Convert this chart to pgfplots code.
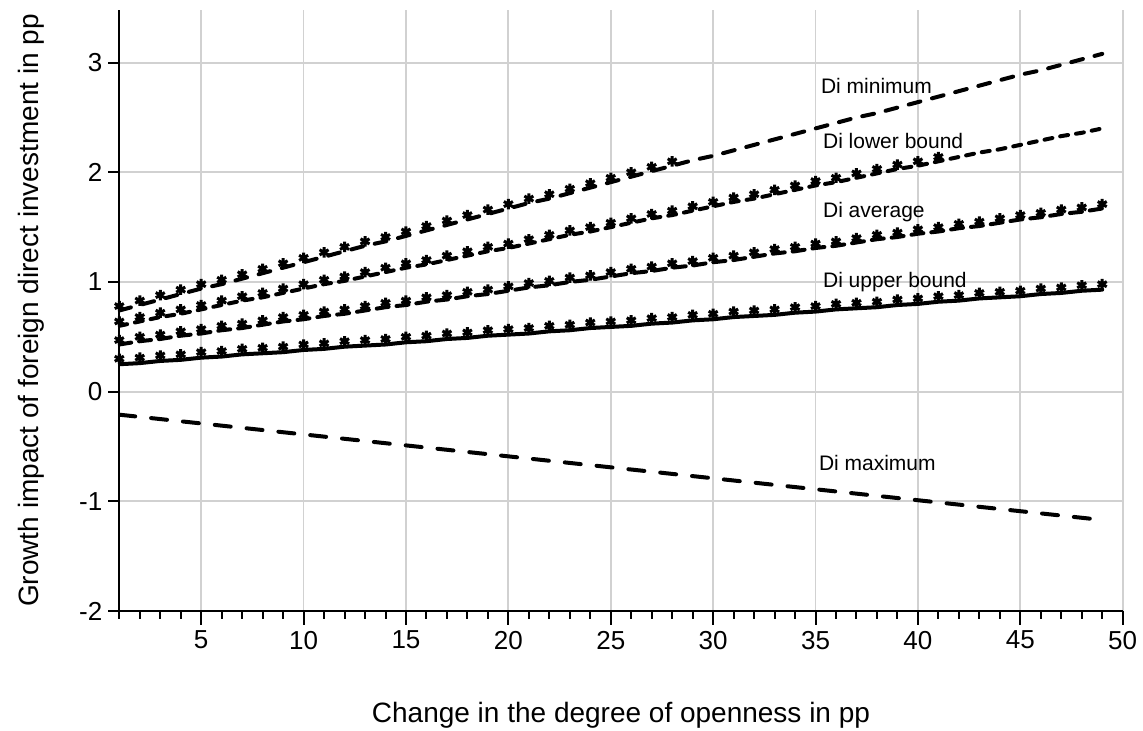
\documentclass[border=0pt]{standalone}
\usepackage{pgfplots}
\usepackage{pgfplotstable}
\pgfplotsset{compat=1.18}
\usepackage{fontspec}
\setmainfont{Liberation Sans}

% Growth impact of FDI by change in openness (pp): bounds and asterisk paths
\pgfplotstableread{
x dmin dlow davg dupp dmax smin slow savg supp
1 0.74 0.60 0.43 0.25 -0.21 0.78 0.64 0.47 0.30
2 0.79 0.64 0.46 0.26 -0.23 0.83 0.68 0.50 0.31
3 0.84 0.68 0.48 0.28 -0.25 0.88 0.72 0.52 0.33
4 0.89 0.71 0.51 0.29 -0.27 0.93 0.75 0.55 0.34
5 0.94 0.75 0.53 0.31 -0.29 0.98 0.79 0.57 0.36
6 0.98 0.79 0.56 0.32 -0.31 1.02 0.83 0.60 0.37
7 1.03 0.83 0.58 0.34 -0.33 1.07 0.87 0.62 0.39
8 1.08 0.86 0.61 0.35 -0.35 1.12 0.90 0.65 0.40
9 1.13 0.90 0.64 0.36 -0.37 1.17 0.94 0.68 0.41
10 1.18 0.94 0.66 0.38 -0.39 1.22 0.98 0.70 0.43
11 1.23 0.98 0.69 0.39 -0.41 1.27 1.02 0.73 0.44
12 1.28 1.01 0.71 0.41 -0.43 1.32 1.05 0.75 0.46
13 1.33 1.05 0.74 0.42 -0.45 1.37 1.09 0.78 0.47
14 1.37 1.09 0.77 0.43 -0.47 1.41 1.13 0.81 0.48
15 1.42 1.13 0.79 0.45 -0.49 1.46 1.17 0.83 0.50
16 1.47 1.16 0.82 0.46 -0.51 1.51 1.20 0.86 0.51
17 1.52 1.20 0.84 0.48 -0.53 1.56 1.24 0.88 0.53
18 1.57 1.24 0.87 0.49 -0.55 1.61 1.28 0.91 0.54
19 1.62 1.28 0.89 0.51 -0.57 1.66 1.32 0.93 0.56
20 1.67 1.31 0.92 0.52 -0.59 1.71 1.35 0.96 0.57
21 1.72 1.35 0.95 0.53 -0.61 1.76 1.39 0.99 0.58
22 1.76 1.39 0.97 0.55 -0.63 1.80 1.43 1.01 0.60
23 1.81 1.43 1.00 0.56 -0.65 1.85 1.47 1.04 0.61
24 1.86 1.46 1.02 0.58 -0.67 1.90 1.50 1.06 0.63
25 1.91 1.50 1.05 0.59 -0.69 1.95 1.54 1.09 0.64
26 1.96 1.54 1.08 0.60 -0.71 2.00 1.58 1.12 0.65
27 2.01 1.58 1.10 0.62 -0.73 2.05 1.62 1.14 0.67
28 2.06 1.61 1.13 0.63 -0.75 2.10 1.65 1.17 0.68
29 2.11 1.65 1.15 0.65 -0.77 nan 1.69 1.19 0.70
30 2.15 1.69 1.18 0.66 -0.79 nan 1.73 1.22 0.71
31 2.20 1.73 1.20 0.68 -0.81 nan 1.77 1.24 0.73
32 2.25 1.76 1.23 0.69 -0.83 nan 1.80 1.27 0.74
33 2.30 1.80 1.26 0.70 -0.85 nan 1.84 1.30 0.75
34 2.35 1.84 1.28 0.72 -0.87 nan 1.88 1.32 0.77
35 2.40 1.88 1.31 0.73 -0.89 nan 1.92 1.35 0.78
36 2.45 1.91 1.33 0.75 -0.91 nan 1.95 1.37 0.80
37 2.50 1.95 1.36 0.76 -0.93 nan 1.99 1.40 0.81
38 2.54 1.99 1.39 0.77 -0.95 nan 2.03 1.43 0.82
39 2.59 2.03 1.41 0.79 -0.97 nan 2.07 1.45 0.84
40 2.64 2.06 1.44 0.80 -0.99 nan 2.10 1.48 0.85
41 2.69 2.10 1.46 0.82 -1.01 nan 2.14 1.50 0.87
42 2.74 2.14 1.49 0.83 -1.03 nan nan 1.53 0.88
43 2.79 2.18 1.51 0.85 -1.05 nan nan 1.55 0.90
44 2.84 2.21 1.54 0.86 -1.07 nan nan 1.58 0.91
45 2.89 2.25 1.57 0.87 -1.09 nan nan 1.61 0.92
46 2.93 2.29 1.59 0.89 -1.11 nan nan 1.63 0.94
47 2.98 2.33 1.62 0.90 -1.13 nan nan 1.66 0.95
48 3.03 2.36 1.64 0.92 -1.15 nan nan 1.68 0.97
49 3.08 2.40 1.67 0.93 -1.17 nan nan 1.71 0.98
}\fdidata

\begin{document}
\begin{tikzpicture}
\begin{axis}[
  scale only axis,
  width=501.7pt, height=300.5pt,
  xmin=1, xmax=50, ymin=-2, ymax=3.48,
  axis x line*=bottom, axis y line*=left,
  axis line style={line width=1pt},
  xtick={5,10,...,50},
  minor xtick={1,...,50},
  ytick={-2,-1,0,1,2,3},
  tick align=outside,
  xtick style={line width=1pt, black, /pgfplots/major tick length=7pt, /pgfplots/minor tick length=4pt},
  ytick style={line width=1pt, black, /pgfplots/major tick length=5.5pt},
  xmajorgrids, ymajorgrids,
  major grid style={line width=0.9pt, black!18},
  minor grid style={draw=none},
  /pgf/number format/assume math mode=true,
  tick label style={font=\fontsize{13}{15}\selectfont},
  xticklabel style={inner sep=0pt, yshift=-5.5pt},
  yticklabel style={inner sep=0pt, xshift=-4pt, /pgf/number format/fixed},
  xlabel={Change in the degree of openness in pp},
  ylabel={Growth impact of foreign direct investment in pp},
  every axis x label/.style={at={(rel axis cs:0.5,0)}, anchor=base, inner sep=0pt, yshift=-56pt, font=\fontsize{14}{16}\selectfont},
  every axis y label/.style={at={(rel axis cs:0,0.5)}, anchor=base, inner sep=0pt, xshift=-40.6pt, rotate=90, font=\fontsize{14}{16}\selectfont},
  clip=true,
]
% bound lines
\addplot[black, line width=2pt, line cap=round, dash pattern=on 6pt off 6pt] table[x=x, y=dmin] {\fdidata};
\addplot[black, line width=2pt, line cap=round, dash pattern=on 4pt off 4pt] table[x=x, y=dlow] {\fdidata};
\addplot[black, line width=2pt, line cap=round, dash pattern=on 6pt off 4pt] table[x=x, y=davg] {\fdidata};
\addplot[black, line width=2pt, line cap=round] table[x=x, y=dupp] {\fdidata};
\addplot[black, line width=2pt, line cap=round, dash pattern=on 8pt off 8pt] table[x=x, y=dmax] {\fdidata};
% asterisk paths
\pgfplotsset{starpath/.style={only marks, mark=asterisk, mark size=2.6pt, mark options={black, line width=1.5pt}}}
\addplot[starpath] table[x=x, y=smin] {\fdidata};
\addplot[starpath] table[x=x, y=slow] {\fdidata};
\addplot[starpath] table[x=x, y=savg] {\fdidata};
\addplot[starpath] table[x=x, y=supp] {\fdidata};
% series names
\begin{scope}[every node/.style={font=\fontsize{10.5}{12}\selectfont, anchor=west, inner sep=0pt}]
\node at (axis cs:35.25,2.79) {Di minimum};
\node at (axis cs:35.35,2.29) {Di lower bound};
\node at (axis cs:35.35,1.64) {Di average};
\node at (axis cs:35.35,1.00) {Di upper bound};
\node at (axis cs:35.15,-0.65) {Di maximum};
\end{scope}
\end{axis}
\pgfresetboundingbox
\path (-59.65pt,-60pt) rectangle (511.85pt,305.5pt);
\end{tikzpicture}
\end{document}
